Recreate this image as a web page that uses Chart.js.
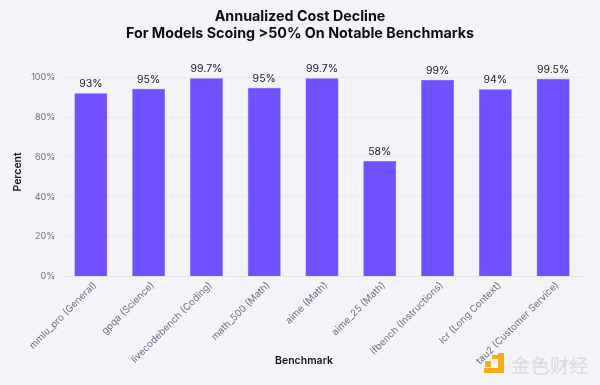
<!DOCTYPE html>
<html><head><meta charset="utf-8">
<style>
html,body{margin:0;padding:0;background:#f3f4f7;}
#w{position:relative;width:600px;height:385px;overflow:hidden}
canvas{position:absolute;left:0;top:0}
#wm{position:absolute;left:511px;top:353px;font:500 19px "Noto Sans CJK SC";color:#dcdde0;letter-spacing:0.5px;line-height:24px}
#lg{position:absolute;left:484px;top:353px;width:20px;height:20px}
#lg i{position:absolute;background:#f2ac1c;display:block}
</style>
<script src="https://cdn.jsdelivr.net/npm/chart.js@4"></script>
</head><body>
<div id="w"><canvas id="c" width="600" height="385"></canvas>
<div id="lg"><i style="left:14px;top:0;width:6px;height:20px"></i><i style="left:0;top:15px;width:20px;height:5px"></i><i style="left:1px;top:8px;width:6px;height:6px"></i><i style="left:8px;top:2px;width:6px;height:4px"></i></div>
<div id="wm">金色财经</div></div>
<script>
const categories=["mmlu_pro (General)","gpqa (Science)","livecodebench (Coding)","math_500 (Math)","aime (Math)","aime_25 (Math)","ifbench (Instructions)","lcr (Long Context)","tau2 (Customer Service)"];
const values=[92,94.3,99.5,94.8,99.5,58,98.7,94,99.3];
const valueLabels=["93%","95%","99.7%","95%","99.7%","58%","99%","94%","99.5%"];
const xTitle="Benchmark";
const FF='Inter, "Liberation Sans", sans-serif';
const valuePlugin={id:'vals',
 afterLayout(ch){ch.titleBlock.left=0;ch.titleBlock.right=600;},
 afterDraw(ch){
  const x=ch.ctx;x.save();x.font='10.5px '+FF;x.fillStyle='#1a1a24';x.textAlign='center';x.textBaseline='bottom';
  ch.getDatasetMeta(0).data.forEach((b,i)=>x.fillText(valueLabels[i],b.x,b.y-4));
  x.font='600 10.5px '+FF;x.fillStyle='#15151c';x.textBaseline='middle';
  x.fillText(xTitle,304,361);
  x.restore();
}};
new Chart(document.getElementById('c'),{
  type:'bar',
  data:{labels:categories,datasets:[{data:values,backgroundColor:'#7050ff',borderColor:'#6a4ae8',borderWidth:0.5,categoryPercentage:1,barPercentage:0.57}]},
  options:{responsive:false,animation:false,
    layout:{padding:{left:0,right:18,top:0,bottom:0}},
    plugins:{legend:{display:false},tooltip:{enabled:false},
      title:{display:true,text:["Annualized Cost Decline","For Models Scoing >50% On Notable Benchmarks"],color:'#0d0d12',font:{family:FF,size:14.3,weight:'700',lineHeight:1.2},padding:{top:8,bottom:25}}},
    scales:{
      x:{afterFit(a){a.height=108.5;},grid:{display:false,drawTicks:false},border:{color:'#e3e3ea'},
        ticks:{color:'#6e6e88',font:{family:FF,size:9.7},maxRotation:45,minRotation:45,padding:3,labelOffset:4,autoSkip:false}},
      y:{min:0,max:105,afterFit(a){a.width=62;},afterBuildTicks(a){a.ticks=[0,20,40,60,80,100].map(v=>({value:v}));},
        grid:{color:'#e9e9ef',drawTicks:false},border:{display:false},
        title:{display:true,text:'Percent',color:'#15151c',font:{family:FF,size:10.5,weight:'600'},padding:{top:12,bottom:0}},
        ticks:{color:'#6e6e88',font:{family:FF,size:9},padding:7,callback:v=>v+'%'}}
    }
  },
  plugins:[valuePlugin]
});
</script>
</body></html>
